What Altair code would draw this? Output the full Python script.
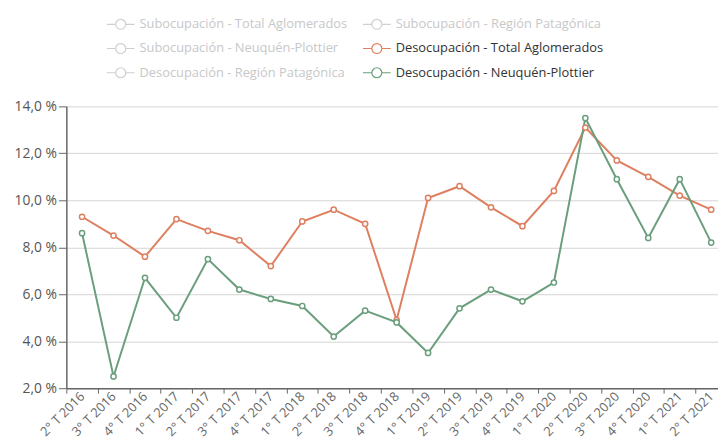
import altair as alt
import pandas as pd

quarters = ["2° T 2016", "3° T 2016", "4° T 2016", "1° T 2017", "2° T 2017", "3° T 2017",
            "4° T 2017", "1° T 2018", "2° T 2018", "3° T 2018", "4° T 2018", "1° T 2019",
            "2° T 2019", "3° T 2019", "4° T 2019", "1° T 2020", "2° T 2020", "3° T 2020",
            "4° T 2020", "1° T 2021", "2° T 2021"]
desoc_total = [9.3, 8.5, 7.6, 9.2, 8.7, 8.3, 7.2, 9.1, 9.6, 9.0, 4.9, 10.1,
               10.6, 9.7, 8.9, 10.4, 13.1, 11.7, 11.0, 10.2, 9.6]
desoc_nqn = [8.6, 2.5, 6.7, 5.0, 7.5, 6.2, 5.8, 5.5, 4.2, 5.3, 4.8, 3.5,
             5.4, 6.2, 5.7, 6.5, 13.5, 10.9, 8.4, 10.9, 8.2]

series_names = ["Subocupación - Total Aglomerados", "Subocupación - Región Patagónica",
                "Subocupación - Neuquén-Plottier", "Desocupación - Total Aglomerados",
                "Desocupación - Región Patagónica", "Desocupación - Neuquén-Plottier"]
series_colors = ["#cfcfcf", "#cfcfcf", "#cfcfcf", "#de7f5f", "#cfcfcf", "#6a9e7c"]
y_ticks = [2, 4, 6, 8, 10, 12, 14]

rows = []
for q, v in zip(quarters, desoc_total):
    rows.append({"quarter": q, "value": v, "series": series_names[3]})
for q, v in zip(quarters, desoc_nqn):
    rows.append({"quarter": q, "value": v, "series": series_names[5]})
df = pd.DataFrame(rows)

font = "Open Sans"
symbol_path = ("M-1,0L-0.36,0M0.36,0L1,0M0.36,0A0.36,0.36,0,1,1,-0.36,0"
               "A0.36,0.36,0,1,1,0.36,0")
label_color_expr = ("datum.label == 'Desocupación - Total Aglomerados' || "
                    "datum.label == 'Desocupación - Neuquén-Plottier' ? '#333333' : '#c8c8c8'")

base = alt.Chart(df).encode(
    x=alt.X("quarter:N", sort=quarters,
            scale=alt.Scale(type="band", paddingInner=0, paddingOuter=0),
            bandPosition=0.5,
            axis=alt.Axis(title=None, labelAngle=-45, tickBand="extent", grid=False,
                          labelFont=font, labelFontSize=13, labelColor="#666666",
                          domainColor="#666666", domainWidth=1.5, tickColor="#666666",
                          tickSize=5, labelPadding=1, labelAlign="right",
                          labelBaseline="middle", labelOverlap=False)),
    y=alt.Y("value:Q", scale=alt.Scale(domain=[2, 14], nice=False, zero=False),
            axis=alt.Axis(title=None, values=y_ticks,
                          labelExpr="replace(format(datum.value, '.1f'), '.', ',') + ' %'",
                          labelFont=font, labelFontSize=14, labelColor="#555555",
                          domainColor="#666666", domainWidth=1.5, tickColor="#666666",
                          tickSize=8, labelPadding=2, grid=True, gridColor="#d4d4d4",
                          gridWidth=1)),
    color=alt.Color("series:N",
                    scale=alt.Scale(domain=series_names, range=series_colors),
                    legend=alt.Legend(title=None, orient="none", direction="horizontal",
                                      legendX=40, legendY=-98,
                                      columns=2, gridAlign="none", columnPadding=12,
                                      rowPadding=1.5, symbolType=symbol_path,
                                      symbolSize=784, symbolStrokeWidth=1.2,
                                      symbolFillColor="white", labelFont=font,
                                      labelFontSize=13,
                                      labelColor=alt.ExprRef(label_color_expr),
                                      labelOffset=4, labelLimit=0)),
)

lines = base.mark_line(strokeWidth=2)
points = base.mark_point(filled=False, fill="white", size=28, strokeWidth=1.5, opacity=1)

chart = (lines + points).properties(
    width=668, height=285,
    padding={"left": 59, "top": 97, "right": -9, "bottom": 58},
    autosize=alt.AutoSizeParams(type="none"),
).configure_view(stroke=None)

chart.save("out.html", embed_options={"renderer": "svg", "actions": False})
